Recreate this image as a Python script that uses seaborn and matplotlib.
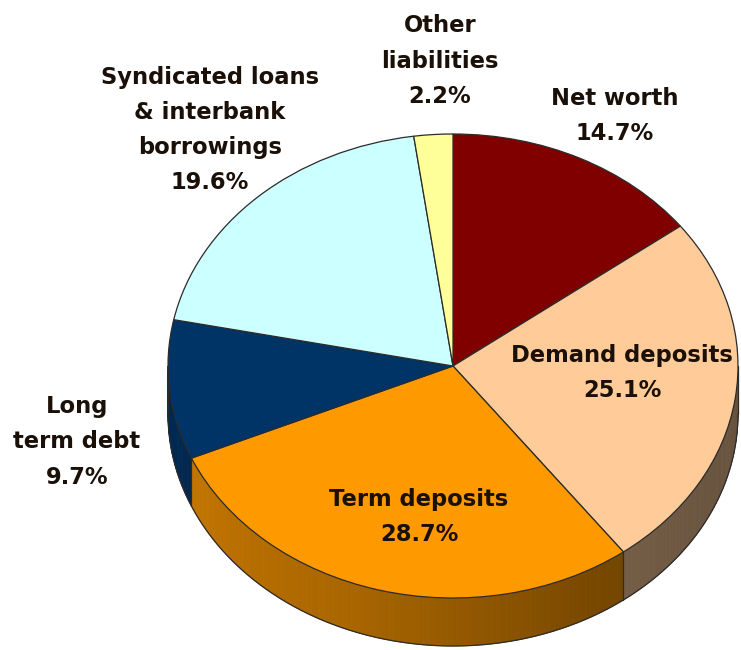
import numpy as np
import matplotlib
matplotlib.use("Agg")
import matplotlib.pyplot as plt
import seaborn as sns
from matplotlib.colors import to_rgb

# Balance-sheet liabilities composition
categories = ["Net worth", "Demand deposits", "Term deposits",
              "Long term debt", "Syndicated loans & interbank borrowings",
              "Other liabilities"]
label_lines = ["Net worth", "Demand deposits", "Term deposits",
               "Long\nterm debt", "Syndicated loans\n& interbank\nborrowings",
               "Other\nliabilities"]
shares = [14.7, 25.1, 28.7, 9.7, 19.6, 2.2]
slice_colors = ["#800000", "#FFCC99", "#FF9900", "#003366", "#CCFFFF", "#FFFF99"]

# label anchor points (figure pixels, from top-left)
label_px = [(615, 116), (622, 373), (419, 517), (77, 442), (210, 130), (440, 61)]

W, H = 741, 650
CX, CY = 453, 366          # pie centre in pixels
RX, RY = 285, 232          # ellipse radii in pixels
DEPTH = 48 / RY            # wall thickness in y-units

sns.set_theme(style="white")
plt.rcParams["font.family"] = ["DejaVu Sans"]

fig = plt.figure(figsize=(W / 100, H / 100), dpi=100)
ax = fig.add_axes([0, 0, 1, 1])

palette = sns.color_palette(slice_colors)

wedges, _ = ax.pie(shares, colors=palette, startangle=90, counterclock=False,
                   radius=1.0, center=(0, 0),
                   wedgeprops=dict(edgecolor="#2b2b2b", linewidth=0.9))
for w in wedges:
    w.set_zorder(3)

# front wall of the disc, lit from the left and darker towards the right
cum = np.concatenate([[0], np.cumsum(shares)]) / np.sum(shares) * 360.0
def shade(phi):
    return np.interp(phi, [180, 250, 300, 330, 360], [0.82, 0.66, 0.47, 0.42, 0.40])

for i, col in enumerate(palette):
    start = (90.0 - cum[i + 1]) % 360.0
    span = cum[i + 1] - cum[i]
    for lo in (start - 360.0, start, start + 360.0):
        hi = lo + span
        s, e = max(lo, 180.0), min(hi, 360.0)
        if e <= s:
            continue
        phis = np.linspace(s, e, max(2, int((e - s) / 1.0) + 2))
        base = np.array(to_rgb(col))
        for p0, p1 in zip(phis[:-1], phis[1:]):
            t0, t1 = np.radians(p0), np.radians(p1)
            xs = [np.cos(t0), np.cos(t1), np.cos(t1), np.cos(t0)]
            ys = [np.sin(t0), np.sin(t1), np.sin(t1) - DEPTH, np.sin(t0) - DEPTH]
            c = np.clip(base * shade(0.5 * (p0 + p1)), 0, 1)
            ax.fill(xs, ys, color=c, linewidth=0.6, edgecolor=c, zorder=1)

# wall outlines
phi = np.radians(np.linspace(180, 360, 200))
ax.plot(np.cos(phi), np.sin(phi) - DEPTH, color="#2b2b2b", lw=0.9, zorder=2)
for b in cum[1:-1]:
    ang = (90.0 - b) % 360.0
    if 180.0 < ang < 360.0:
        t = np.radians(ang)
        ax.plot([np.cos(t), np.cos(t)], [np.sin(t), np.sin(t) - DEPTH],
                color="#2b2b2b", lw=0.9, zorder=2)
ax.plot([-1, -1], [0, -DEPTH], color="#2b2b2b", lw=0.9, zorder=2)
ax.plot([1, 1], [0, -DEPTH], color="#2b2b2b", lw=0.9, zorder=2)

ax.set_aspect("auto")
ax.set_xlim(-CX / RX, (W - CX) / RX)
ax.set_ylim(-(H - CY) / RY, CY / RY)
ax.axis("off")

for name, val, (px, py) in zip(label_lines, shares, label_px):
    fig.text(px / W, 1 - py / H, f"{name}\n{val:.1f}%", ha="center", va="center",
             fontsize=16.3, fontweight="bold", color="#1a1008",
             linespacing=1.68, zorder=5)

fig.savefig("out.png", dpi=100, facecolor="white")
